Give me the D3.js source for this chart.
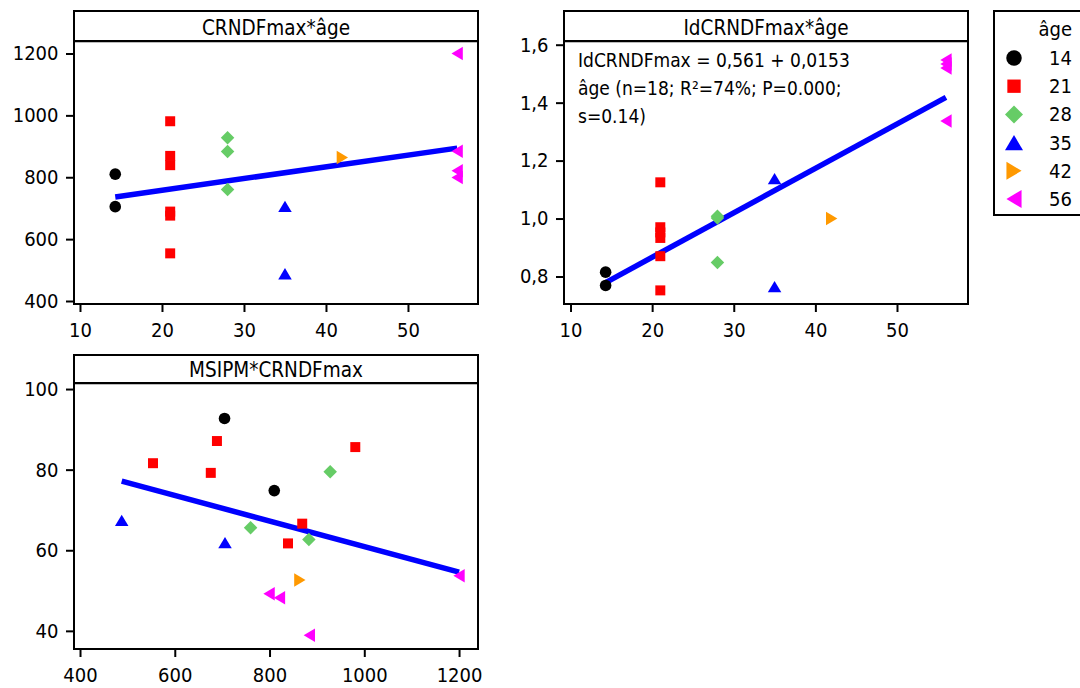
<!DOCTYPE html>
<html>
<head>
<meta charset="utf-8">
<script src="https://cdn.jsdelivr.net/npm/d3@7"></script>
<style>
  body { margin: 0; background: #fff; }
  svg { display: block; font-family: "DejaVu Sans Condensed", "DejaVu Sans", Verdana, sans-serif; }
</style>
</head>
<body>
<svg id="chart" width="1080" height="688"></svg>
<script>
// ---------------- DATA ----------------
const ageGroups = [14, 21, 28, 35, 42, 56];
const groupColors = ["#000000", "#ff0000", "#66cc66", "#0000ff", "#ff9900", "#ff00ff"];
const groupShapes = ["circle", "square", "diamond", "up", "right", "left"];

// per observation (18 rows)
const pointGroup = [14, 14, 21, 21, 21, 21, 21, 21, 28, 28, 28, 35, 35, 42, 56, 56, 56, 56];
const ageValues  = [14.3, 14.3, 21, 21, 21, 21, 21, 21, 28, 28, 28, 35, 35, 42, 56, 56, 56, 56];
const crndfmax   = [810, 705, 981, 869, 839, 689, 676, 554, 928, 883, 760, 706, 488, 864, 1200, 884, 821, 799];
const msipm      = [74.8, 92.7, 85.6, 66.6, 61.7, 87.1, 79.2, 81.6, 79.5, 62.7, 65.6, 61.9, 67.4, 52.6, 53.7, 38.9, 48.2, 49.2];
const idcrndfmax = [0.815, 0.769, 1.125, 0.970, 0.952, 0.933, 0.870, 0.752, 1.008, 1.002, 0.848, 1.138, 0.765, 1.000, 1.547, 1.533, 1.520, 1.337];

const panelTitles = ["CRNDFmax*âge", "IdCRNDFmax*âge", "MSIPM*CRNDFmax"];
const ageTicks = [10, 20, 30, 40, 50];
const crTicksY = [400, 600, 800, 1000, 1200];
const idTicksY = [0.8, 1.0, 1.2, 1.4, 1.6];
const crTicksX = [400, 600, 800, 1000, 1200];
const msTicksY = [40, 60, 80, 100];
const equationLines = ["IdCRNDFmax = 0,561 + 0,0153", "âge (n=18; R²=74%; P=0.000;", "s=0.14)"];
const legendTitle = "âge";

// ---------------- DRAWING ----------------
const svg = d3.select("#chart");
const FONT = 20;

function linReg(xs, ys) {
  const n = xs.length, mx = d3.mean(xs), my = d3.mean(ys);
  let sxy = 0, sxx = 0;
  for (let i = 0; i < n; i++) { sxy += (xs[i] - mx) * (ys[i] - my); sxx += (xs[i] - mx) ** 2; }
  const b = sxy / sxx;
  return { a: my - b * mx, b };
}

function markerPath(shape, s) {
  switch (shape) {
    case "circle": return d3.symbol(d3.symbolCircle, Math.PI * (s * 0.43) ** 2)();
    case "square": { const q = s * 0.37; return `M${-q},${-q}H${q}V${q}H${-q}Z`; }
    case "diamond": { const q = s * 0.5; return `M0,${-q}L${q},0L0,${q}L${-q},0Z`; }
    case "up": { const w = s * 0.5, t = s * 0.42; return `M0,${-t}L${w},${t}L${-w},${t}Z`; }
    case "right": { const w = s * 0.42, t = s * 0.5; return `M${w},0L${-w},${t}L${-w},${-t}Z`; }
    case "left": { const w = s * 0.42, t = s * 0.5; return `M${-w},0L${w},${-t}L${w},${t}Z`; }
  }
}

function panel(cfg) {
  const g = svg.append("g");
  const { x0, x1, yTop, yStrip, yBot } = cfg;
  const x = d3.scaleLinear().domain(cfg.xDomain).range([x0, x1]);
  const y = d3.scaleLinear().domain(cfg.yDomain).range([yBot, yStrip]);

  const ax = g.append("g").attr("transform", `translate(0,${yBot})`)
    .call(d3.axisBottom(x).tickValues(cfg.xTicks).tickSize(8).tickPadding(11).tickFormat(cfg.xFmt));
  const ay = g.append("g").attr("transform", `translate(${x0},0)`)
    .call(d3.axisLeft(y).tickValues(cfg.yTicks).tickSize(8).tickPadding(7.5).tickFormat(cfg.yFmt));
  [ax, ay].forEach(a => {
    a.attr("font-family", null).attr("font-size", null);
    a.select(".domain").remove();
    a.selectAll("line").attr("stroke", "#000").attr("stroke-width", 2);
    a.selectAll("text").attr("font-size", FONT).attr("fill", "#000");
  });

  const clip = "clip" + cfg.id;
  g.append("clipPath").attr("id", clip).append("rect")
    .attr("x", x0).attr("y", yStrip).attr("width", x1 - x0).attr("height", yBot - yStrip);
  const pg = g.append("g").attr("clip-path", `url(#${clip})`);

  const r = linReg(cfg.xs, cfg.ys);
  const xmin = d3.min(cfg.xs), xmax = d3.max(cfg.xs);
  pg.append("line")
    .attr("x1", x(xmin)).attr("y1", y(r.a + r.b * xmin))
    .attr("x2", x(xmax)).attr("y2", y(r.a + r.b * xmax))
    .attr("stroke", "#0000ff").attr("stroke-width", 5.5);

  pg.selectAll("path.pt").data(cfg.xs.map((v, i) => ({ x: v, y: cfg.ys[i], gi: ageGroups.indexOf(pointGroup[i]) })))
    .join("path").attr("class", "pt")
    .attr("transform", d => `translate(${x(d.x)},${y(d.y)})`)
    .attr("d", d => markerPath(groupShapes[d.gi], 13.5))
    .attr("fill", d => groupColors[d.gi]);

  g.append("rect").attr("x", x0).attr("y", yTop).attr("width", x1 - x0).attr("height", yBot - yTop)
    .attr("fill", "none").attr("stroke", "#000").attr("stroke-width", 2);
  g.append("line").attr("x1", x0).attr("x2", x1).attr("y1", yStrip).attr("y2", yStrip)
    .attr("stroke", "#000").attr("stroke-width", 2);
  g.append("line").attr("x1", x0 + 1).attr("x2", x1 - 1).attr("y1", yStrip + 1.5).attr("y2", yStrip + 1.5)
    .attr("stroke", "#bbb").attr("stroke-width", 1);
  g.append("text").attr("x", (x0 + x1) / 2).attr("y", yStrip - 6.5)
    .attr("text-anchor", "middle").attr("font-size", 20.5).text(cfg.title);
  return { g, x, y };
}

const comma1 = v => d3.format(".1f")(v).replace(".", ",");

panel({ id: 1, x0: 74, x1: 478, yTop: 11, yStrip: 41, yBot: 304,
  xDomain: [9.27, 58.54], yDomain: [390.3, 1240.4],
  xTicks: ageTicks, yTicks: crTicksY, xFmt: d3.format("d"), yFmt: d3.format("d"),
  xs: ageValues, ys: crndfmax, title: panelTitles[0] });

const p2 = panel({ id: 2, x0: 564, x1: 968, yTop: 11, yStrip: 41, yBot: 304,
  xDomain: [9.2, 58.7], yDomain: [0.705, 1.6128],
  xTicks: ageTicks, yTicks: idTicksY, xFmt: d3.format("d"), yFmt: comma1,
  xs: ageValues, ys: idcrndfmax, title: panelTitles[1] });

panel({ id: 3, x0: 74, x1: 478, yTop: 355, yStrip: 383, yBot: 649,
  xDomain: [387.3, 1240], yDomain: [35.5, 101.5],
  xTicks: crTicksX, yTicks: msTicksY, xFmt: d3.format("d"), yFmt: d3.format("d"),
  xs: crndfmax, ys: msipm, title: panelTitles[2] });

// equation text in panel 2
p2.g.append("g").selectAll("text").data(equationLines).join("text")
  .attr("x", 578).attr("y", (d, i) => 67.3 + i * 28)
  .attr("font-size", 19).text(d => d);

// legend
const lg = svg.append("g");
lg.append("rect").attr("x", 994).attr("y", 11).attr("width", 120).attr("height", 204)
  .attr("fill", "#fff").attr("stroke", "#000").attr("stroke-width", 2);
lg.append("text").attr("x", 1072).attr("y", 36).attr("text-anchor", "end").attr("font-size", FONT).text(legendTitle);
const rows = lg.selectAll("g.row").data(ageGroups).join("g").attr("class", "row")
  .attr("transform", (d, i) => `translate(0,${58 + i * 28.2})`);
rows.append("path").attr("transform", "translate(1014,0)")
  .attr("d", (d, i) => markerPath(groupShapes[i], 18)).attr("fill", (d, i) => groupColors[i]);
rows.append("text").attr("x", 1072).attr("y", 7).attr("text-anchor", "end").attr("font-size", FONT).text(d => d);
</script>
</body>
</html>
